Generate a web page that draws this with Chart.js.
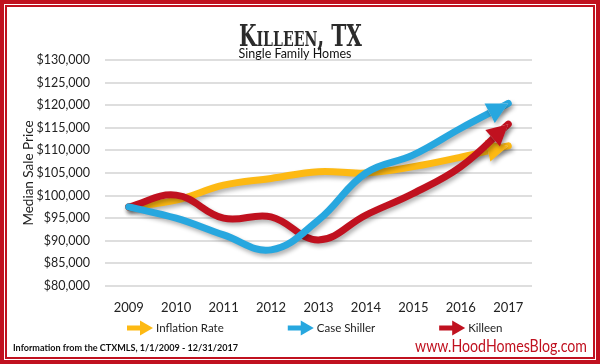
<!DOCTYPE html>
<html lang="en">
<head>
<meta charset="UTF-8">
<title>Killeen, TX</title>
<script src="https://cdn.jsdelivr.net/npm/chart.js@4.4.0/dist/chart.umd.min.js"></script>
<style>
    html, body { margin: 0; padding: 0; background: #fff; }
    #homeChart { display: block; }
</style>
</head>
<body>
<canvas id="homeChart" width="600" height="364"></canvas>
<script>
    const years = ['2009', '2010', '2011', '2012', '2013', '2014', '2015', '2016', '2017'];
    const inflationRate = [97500, 99000, 102300, 103800, 105300, 105000, 106400, 108500, 111000];
    const caseShiller = [97500, 95000, 91300, 88000, 94600, 105000, 109000, 114900, 120400];
    const killeen = [97500, 100100, 95000, 95300, 90200, 95700, 100500, 106400, 115800];
    const yTicks = { min: 80000, max: 130000, step: 5000 };

    const RED = '#c0111f';
    const FONT = 'Lato, "DejaVu Sans", sans-serif';

    function headFor(meta) {
        const pts = meta.data;
        const p = pts[pts.length - 1];
        let dx = p.x - p.cp1x, dy = p.y - p.cp1y;
        const len = Math.hypot(dx, dy) || 1;
        dx /= len; dy /= len;
        const L = 21, W = 11;
        const bx = p.x - dx * L, by = p.y - dy * L;
        return [[p.x, p.y], [bx - dy * W, by + dx * W], [bx + dy * W, by - dx * W]];
    }

    function shadow(ctx) {
        ctx.shadowColor = 'rgba(0,0,0,0.3)';
        ctx.shadowBlur = 4;
        ctx.shadowOffsetX = 2;
        ctx.shadowOffsetY = 3;
    }

    // arrowheads + drop shadow on the lines
    const arrowLines = {
        id: 'arrowLines',
        beforeDatasetDraw(chart, args) {
            const ctx = chart.ctx;
            const tri = headFor(args.meta);
            ctx.save();
            ctx.beginPath();
            ctx.rect(0, 0, chart.width, chart.height);
            ctx.moveTo(tri[0][0], tri[0][1]);
            ctx.lineTo(tri[1][0], tri[1][1]);
            ctx.lineTo(tri[2][0], tri[2][1]);
            ctx.closePath();
            ctx.clip('evenodd');
            shadow(ctx);
        },
        afterDatasetDraw(chart, args) {
            const ctx = chart.ctx;
            ctx.restore();
            const tri = headFor(args.meta);
            ctx.save();
            shadow(ctx);
            ctx.fillStyle = chart.data.datasets[args.index].borderColor;
            ctx.beginPath();
            ctx.moveTo(tri[0][0], tri[0][1]);
            ctx.lineTo(tri[1][0], tri[1][1]);
            ctx.lineTo(tri[2][0], tri[2][1]);
            ctx.closePath();
            ctx.fill();
            ctx.restore();
        }
    };

    // frame, titles, legend, footer
    const decor = {
        id: 'decor',
        beforeDraw(chart) {
            const ctx = chart.ctx;
            ctx.save();
            ctx.fillStyle = RED;
            ctx.fillRect(0, 0, 600, 364);
            ctx.fillStyle = '#fff';
            ctx.fillRect(4, 4, 592, 356);
            ctx.fillStyle = RED;
            ctx.fillRect(5, 5, 590, 354);
            ctx.fillStyle = '#fff';
            ctx.fillRect(7, 7, 586, 350);
            ctx.restore();
        },
        afterDraw(chart) {
            const ctx = chart.ctx;
            ctx.save();
            ctx.fillStyle = '#2b2b2b';
            ctx.textAlign = 'center';
            ctx.textBaseline = 'alphabetic';
            ctx.font = 'small-caps bold 30px "DejaVu Serif Condensed", "DejaVu Serif", serif';
            const tw = ctx.measureText('Killeen, TX').width;
            ctx.save();
            ctx.translate(300.5, 46);
            ctx.scale(123 / tw, 1);
            ctx.fillText('Killeen, TX', 0, 0);
            ctx.restore();
            ctx.fillStyle = '#111';
            ctx.font = '12.5px ' + FONT;
            ctx.fillText('Single Family Homes', 295, 58);

            // legend
            ctx.textAlign = 'left';
            ctx.textBaseline = 'middle';
            ctx.font = '11.5px ' + FONT;
            let x = 127;
            const y = 328;
            chart.data.datasets.forEach(ds => {
                ctx.fillStyle = ds.borderColor;
                ctx.fillRect(x, y - 2.5, 15, 5);
                ctx.beginPath();
                ctx.moveTo(x + 13, y - 7.5);
                ctx.lineTo(x + 26, y);
                ctx.lineTo(x + 13, y + 7.5);
                ctx.closePath();
                ctx.fill();
                ctx.fillStyle = '#222';
                ctx.fillText(ds.label, x + 29, y);
                x += 29 + ctx.measureText(ds.label).width + 64;
            });

            // footer
            ctx.textBaseline = 'alphabetic';
            ctx.fillStyle = '#111';
            ctx.font = 'bold 10px ' + FONT;
            ctx.fillText('Information from the CTXMLS, 1/1/2009 - 12/31/2017', 13, 351, 225);
            ctx.textAlign = 'right';
            ctx.fillStyle = RED;
            ctx.font = '17px ' + FONT;
            ctx.fillText('www.HoodHomesBlog.com', 587, 352, 172);
            ctx.restore();
        }
    };

    const lineStyle = { borderWidth: 7, tension: 0.4, pointRadius: 0, fill: false, borderCapStyle: 'round', borderJoinStyle: 'round' };

    new Chart(document.getElementById('homeChart'), {
        type: 'line',
        data: {
            labels: years,
            datasets: [
                Object.assign({ label: 'Inflation Rate', data: inflationRate, borderColor: '#fdb913', order: 3 }, lineStyle),
                Object.assign({ label: 'Case Shiller', data: caseShiller, borderColor: '#27a7df', order: 1 }, lineStyle),
                Object.assign({ label: 'Killeen', data: killeen, borderColor: RED, order: 2 }, lineStyle)
            ]
        },
        options: {
            responsive: false,
            animation: false,
            devicePixelRatio: 1,
            layout: { padding: { left: 8, right: 68, top: 60, bottom: 52 } },
            plugins: { legend: { display: false }, tooltip: { enabled: false } },
            scales: {
                x: {
                    offset: true,
                    grid: { display: false },
                    border: { display: false },
                    ticks: { color: '#222', font: { family: FONT, size: 13 }, padding: 6, maxRotation: 0 },
                    afterFit: s => { s.height = 26; }
                },
                y: {
                    min: yTicks.min,
                    max: yTicks.max,
                    border: { display: false },
                    grid: { color: '#dedede', lineWidth: 2, drawTicks: false },
                    ticks: {
                        stepSize: yTicks.step,
                        color: '#222',
                        padding: 15,
                        font: { family: FONT, size: 12.5 },
                        callback: v => '$' + v.toLocaleString('en-US')
                    },
                    title: {
                        display: true,
                        text: 'Median Sale Price',
                        color: '#222',
                        font: { family: FONT, size: 13.5 },
                        padding: { top: 13, bottom: 0 }
                    },
                    afterFit: s => { s.width = 97; }
                }
            }
        },
        plugins: [arrowLines, decor]
    });
</script>
</body>
</html>
